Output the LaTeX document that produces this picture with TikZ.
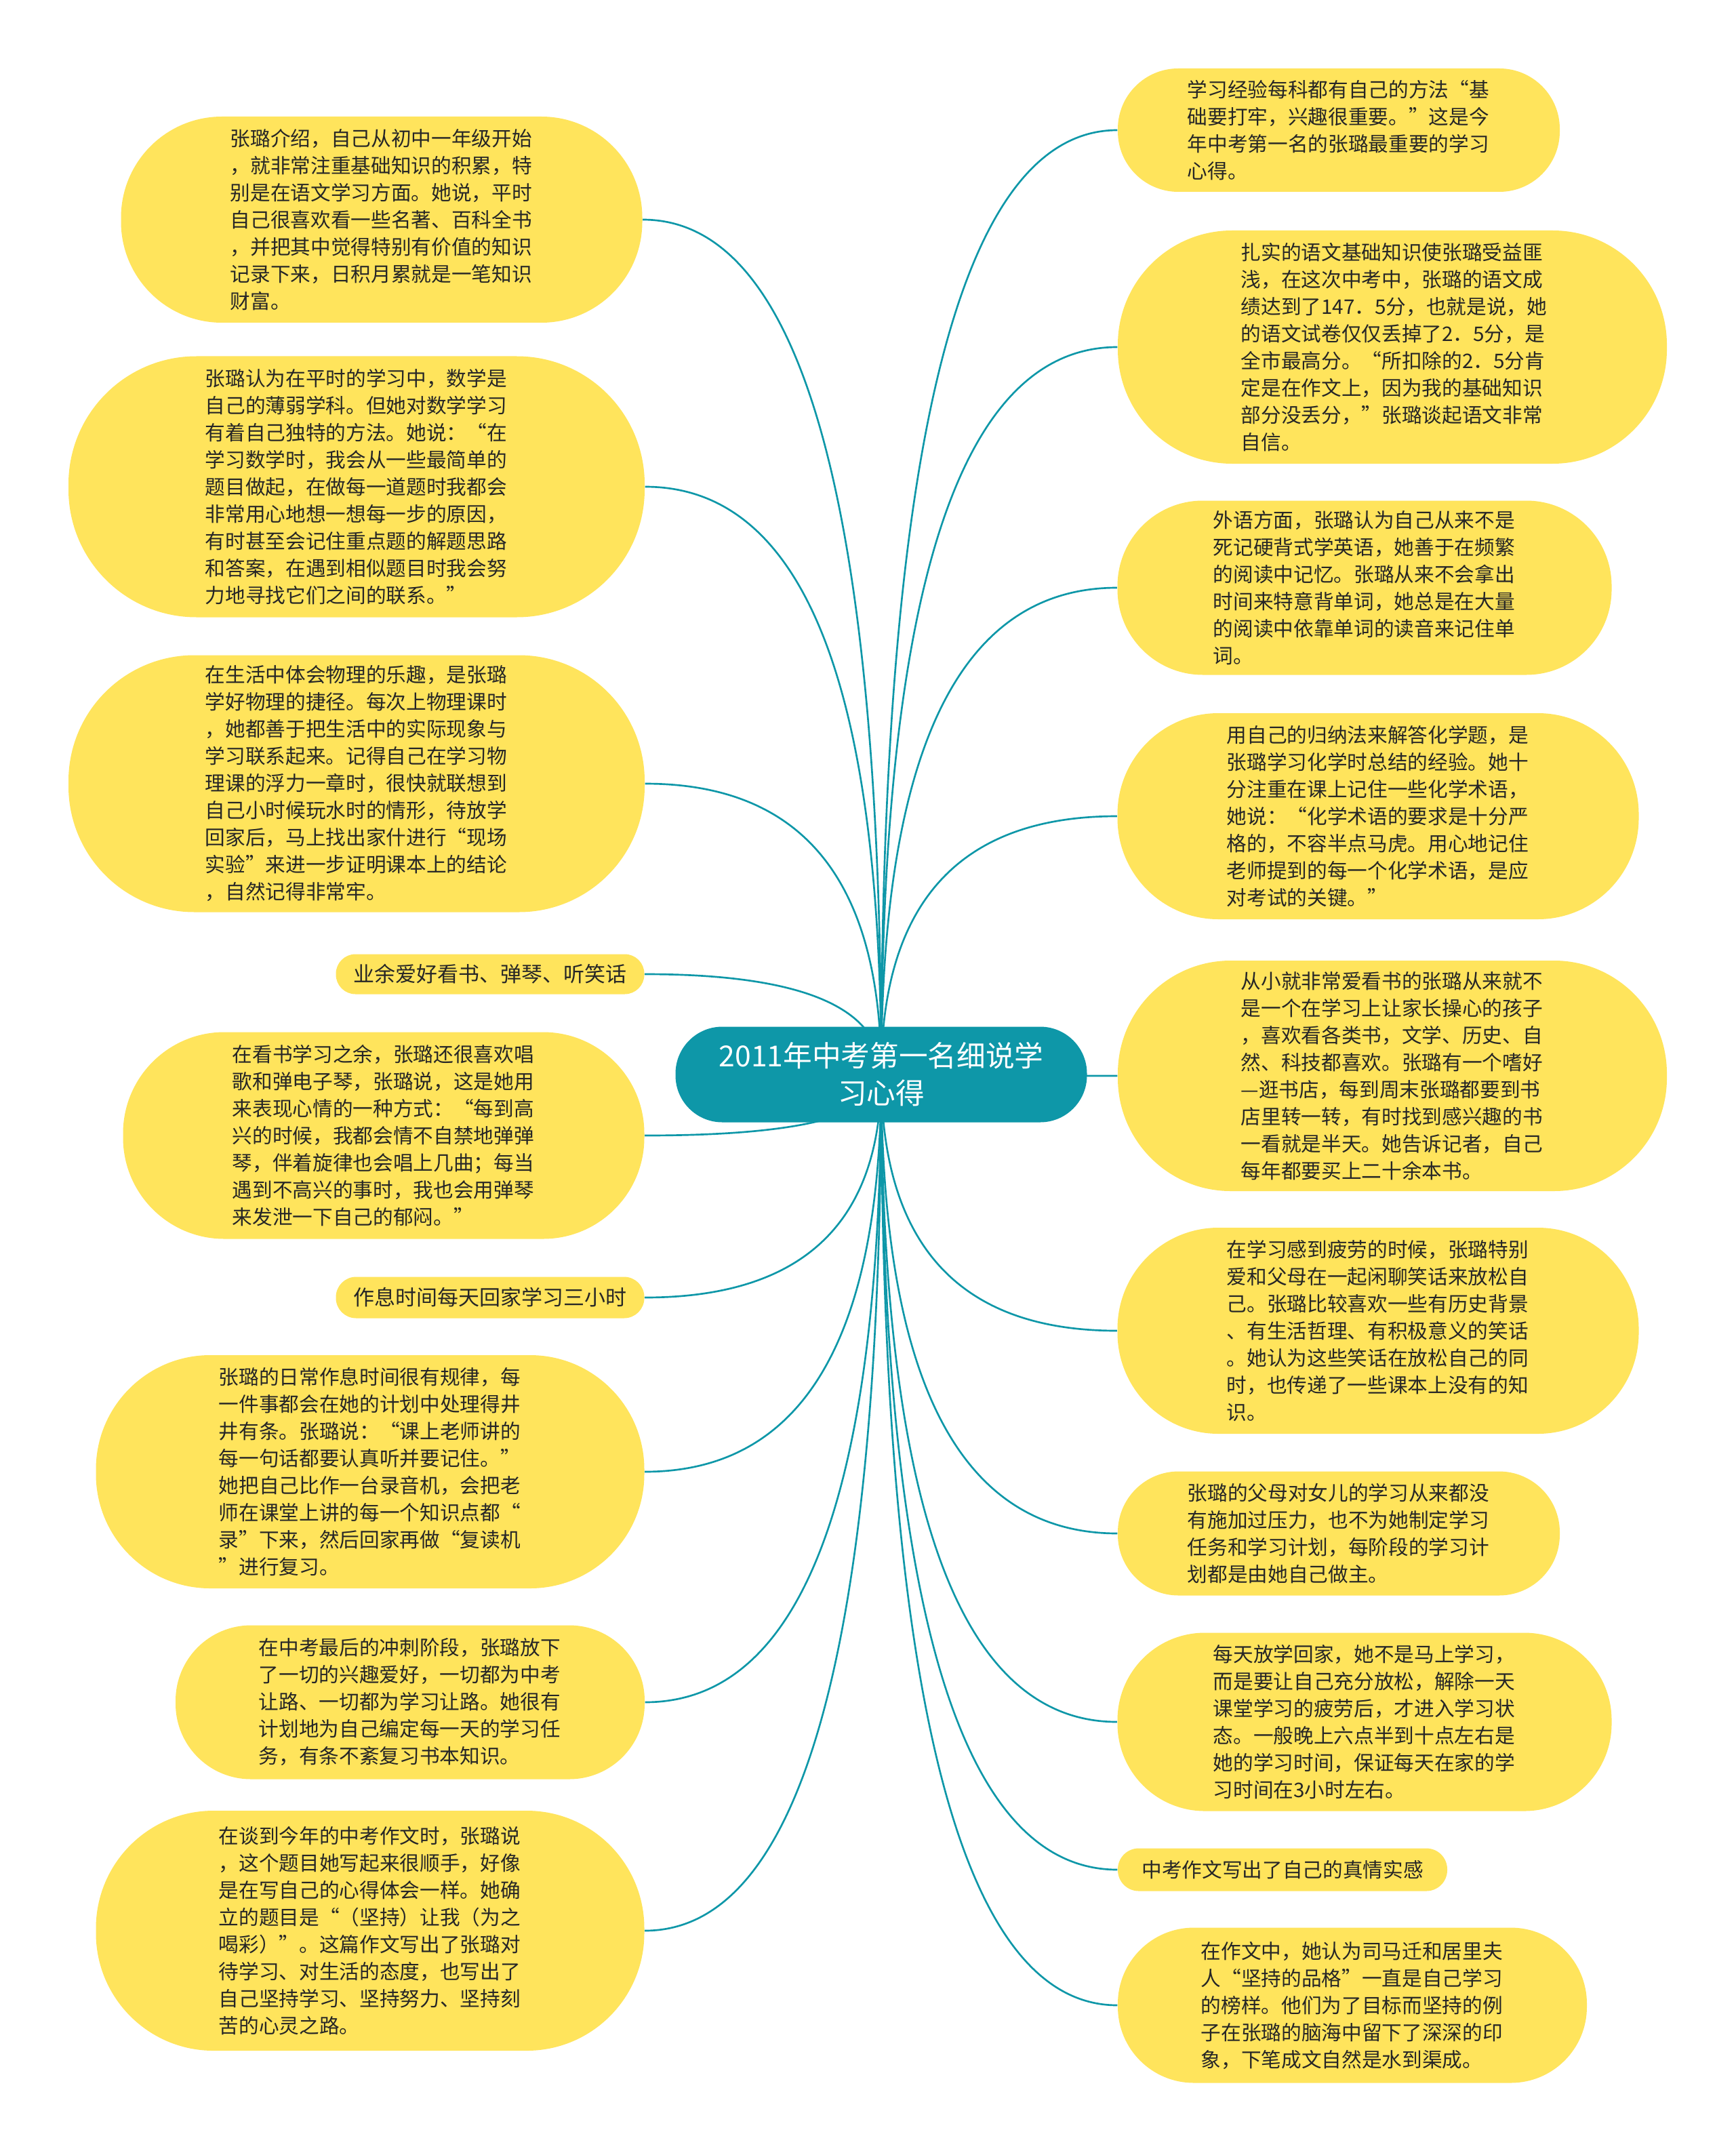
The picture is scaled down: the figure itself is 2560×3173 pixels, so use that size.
\documentclass[tikz,border=0pt]{standalone}
\usepackage{fontspec}
\setmainfont{Noto Sans CJK SC}
\usepackage{tikz}
\usetikzlibrary{calc,backgrounds}
\usepackage{xcolor}
\definecolor{hubc}{HTML}{0E97A8}
\definecolor{leafc}{HTML}{FFE45C}
\definecolor{ink}{HTML}{262626}

\tikzset{
  leaf/.style={rectangle,fill=leafc,text=ink,inner sep=0pt,align=left,
    font=\fontsize{8.9pt}{12pt}\selectfont},
  box/.style 2 args={minimum width=#1*0.3pt,minimum height=#2*0.3pt,
    rounded corners=#2*0.147pt},
  wide/.style={text width=134pt},
  tag/.style={font=\fontsize{9.3pt}{12pt}\selectfont},
  hub/.style={rectangle,fill=hubc,text=white,inner sep=0pt,align=center,
    font=\fontsize{12.8pt}{16.5pt}\selectfont},
  link/.style={draw=hubc,line width=0.8pt},
}

\begin{document}
\begin{tikzpicture}[x=0.3pt,y=-0.3pt]
  \useasboundingbox (0,0) rectangle (2560,3173);
  % centre
  \node[hub,box={607}{141}] (hub) at (1300,1585)
    {2011年中考第一名细说学\\习心得};
  % left branches
  \node[leaf,wide,box={769}{304}] (L1) at (563,324)
    {张璐介绍，自己从初中一年级开始\\，就非常注重基础知识的积累，特\\别是在语文学习方面。她说，平时\\自己很喜欢看一些名著、百科全书\\，并把其中觉得特别有价值的知识\\记录下来，日积月累就是一笔知识\\财富。};
  \node[leaf,wide,box={850}{385}] (L2) at (526,718)
    {张璐认为在平时的学习中，数学是\\自己的薄弱学科。但她对数学学习\\有着自己独特的方法。她说：“在\\学习数学时，我会从一些最简单的\\题目做起，在做每一道题时我都会\\非常用心地想一想每一步的原因，\\有时甚至会记住重点题的解题思路\\和答案，在遇到相似题目时我会努\\力地寻找它们之间的联系。”};
  \node[leaf,wide,box={850}{379}] (L3) at (526,1156)
    {在生活中体会物理的乐趣，是张璐\\学好物理的捷径。每次上物理课时\\，她都善于把生活中的实际现象与\\学习联系起来。记得自己在学习物\\理课的浮力一章时，很快就联想到\\自己小时候玩水时的情形，待放学\\回家后，马上找出家什进行“现场\\实验”来进一步证明课本上的结论\\，自然记得非常牢。};
  \node[leaf,tag,box={455}{59}] (L4) at (723,1437) {业余爱好看书、弹琴、听笑话};
  \node[leaf,wide,box={769}{305}] (L5) at (566,1675)
    {在看书学习之余，张璐还很喜欢唱\\歌和弹电子琴，张璐说，这是她用\\来表现心情的一种方式：“每到高\\兴的时候，我都会情不自禁地弹弹\\琴，伴着旋律也会唱上几曲；每当\\遇到不高兴的事时，我也会用弹琴\\来发泄一下自己的郁闷。”};
  \node[leaf,tag,box={455}{61}] (L6) at (723,1914) {作息时间每天回家学习三小时};
  \node[leaf,wide,box={809}{344}] (L7) at (546,2171)
    {张璐的日常作息时间很有规律，每\\一件事都会在她的计划中处理得井\\井有条。张璐说：“课上老师讲的\\每一句话都要认真听并要记住。”\\她把自己比作一台录音机，会把老\\师在课堂上讲的每一个知识点都“\\录”下来，然后回家再做“复读机\\”进行复习。};
  \node[leaf,wide,box={692}{227}] (L8) at (605,2511)
    {在中考最后的冲刺阶段，张璐放下\\了一切的兴趣爱好，一切都为中考\\让路、一切都为学习让路。她很有\\计划地为自己编定每一天的学习任\\务，有条不紊复习书本知识。};
  \node[leaf,wide,box={809}{354}] (L9) at (546,2848)
    {在谈到今年的中考作文时，张璐说\\，这个题目她写起来很顺手，好像\\是在写自己的心得体会一样。她确\\立的题目是“（坚持）让我（为之\\喝彩）”。这篇作文写出了张璐对\\待学习、对生活的态度，也写出了\\自己坚持学习、坚持努力、坚持刻\\苦的心灵之路。};
  % right branches
  \node[leaf,wide,box={652}{182}] (R1) at (1975,192)
    {学习经验每科都有自己的方法“基\\础要打牢，兴趣很重要。”这是今\\年中考第一名的张璐最重要的学习\\心得。};
  \node[leaf,wide,box={810}{344}] (R2) at (2054,512)
    {扎实的语文基础知识使张璐受益匪\\浅，在这次中考中，张璐的语文成\\绩达到了147．5分，也就是说，她\\的语文试卷仅仅丢掉了2．5分，是\\全市最高分。“所扣除的2．5分肯\\定是在作文上，因为我的基础知识\\部分没丢分，”张璐谈起语文非常\\自信。};
  \node[leaf,wide,box={729}{257}] (R3) at (2013,867)
    {外语方面，张璐认为自己从来不是\\死记硬背式学英语，她善于在频繁\\的阅读中记忆。张璐从来不会拿出\\时间来特意背单词，她总是在大量\\的阅读中依靠单词的读音来记住单\\词。};
  \node[leaf,wide,box={769}{304}] (R4) at (2033,1204)
    {用自己的归纳法来解答化学题，是\\张璐学习化学时总结的经验。她十\\分注重在课上记住一些化学术语，\\她说：“化学术语的要求是十分严\\格的，不容半点马虎。用心地记住\\老师提到的每一个化学术语，是应\\对考试的关键。”};
  \node[leaf,wide,box={810}{340}] (R5) at (2054,1587)
    {从小就非常爱看书的张璐从来就不\\是一个在学习上让家长操心的孩子\\，喜欢看各类书，文学、历史、自\\然、科技都喜欢。张璐有一个嗜好\\—逛书店，每到周末张璐都要到书\\店里转一转，有时找到感兴趣的书\\一看就是半天。她告诉记者，自己\\每年都要买上二十余本书。};
  \node[leaf,wide,box={769}{304}] (R6) at (2033,1963)
    {在学习感到疲劳的时候，张璐特别\\爱和父母在一起闲聊笑话来放松自\\己。张璐比较喜欢一些有历史背景\\、有生活哲理、有积极意义的笑话\\。她认为这些笑话在放松自己的同\\时，也传递了一些课本上没有的知\\识。};
  \node[leaf,wide,box={652}{183}] (R7) at (1975,2262)
    {张璐的父母对女儿的学习从来都没\\有施加过压力，也不为她制定学习\\任务和学习计划，每阶段的学习计\\划都是由她自己做主。};
  \node[leaf,wide,box={729}{263}] (R8) at (2013,2540)
    {每天放学回家，她不是马上学习，\\而是要让自己充分放松，解除一天\\课堂学习的疲劳后，才进入学习状\\态。一般晚上六点半到十点左右是\\她的学习时间，保证每天在家的学\\习时间在3小时左右。};
  \node[leaf,box={486}{63}] (R9) at (1892,2758) {中考作文写出了自己的真情实感};
  \node[leaf,wide,box={692}{229}] (R10) at (1995,2958)
    {在作文中，她认为司马迁和居里夫\\人“坚持的品格”一直是自己学习\\的榜样。他们为了目标而坚持的例\\子在张璐的脑海中留下了深深的印\\象，下笔成文自然是水到渠成。};
  % connectors drawn behind the boxes
  \begin{scope}[on background layer]
    \foreach \i in {1,...,9}
      \draw[link] (hub.center) .. controls ($(hub.center)!2/3!(hub.center |- L\i.east)$)
        and ($(L\i.east)!2/3!(hub.center |- L\i.east)$) .. (L\i.east);
    \foreach \i in {1,...,10}
      \draw[link] (hub.center) .. controls ($(hub.center)!2/3!(hub.center |- R\i.west)$)
        and ($(R\i.west)!2/3!(hub.center |- R\i.west)$) .. (R\i.west);
  \end{scope}
\end{tikzpicture}
\end{document}
